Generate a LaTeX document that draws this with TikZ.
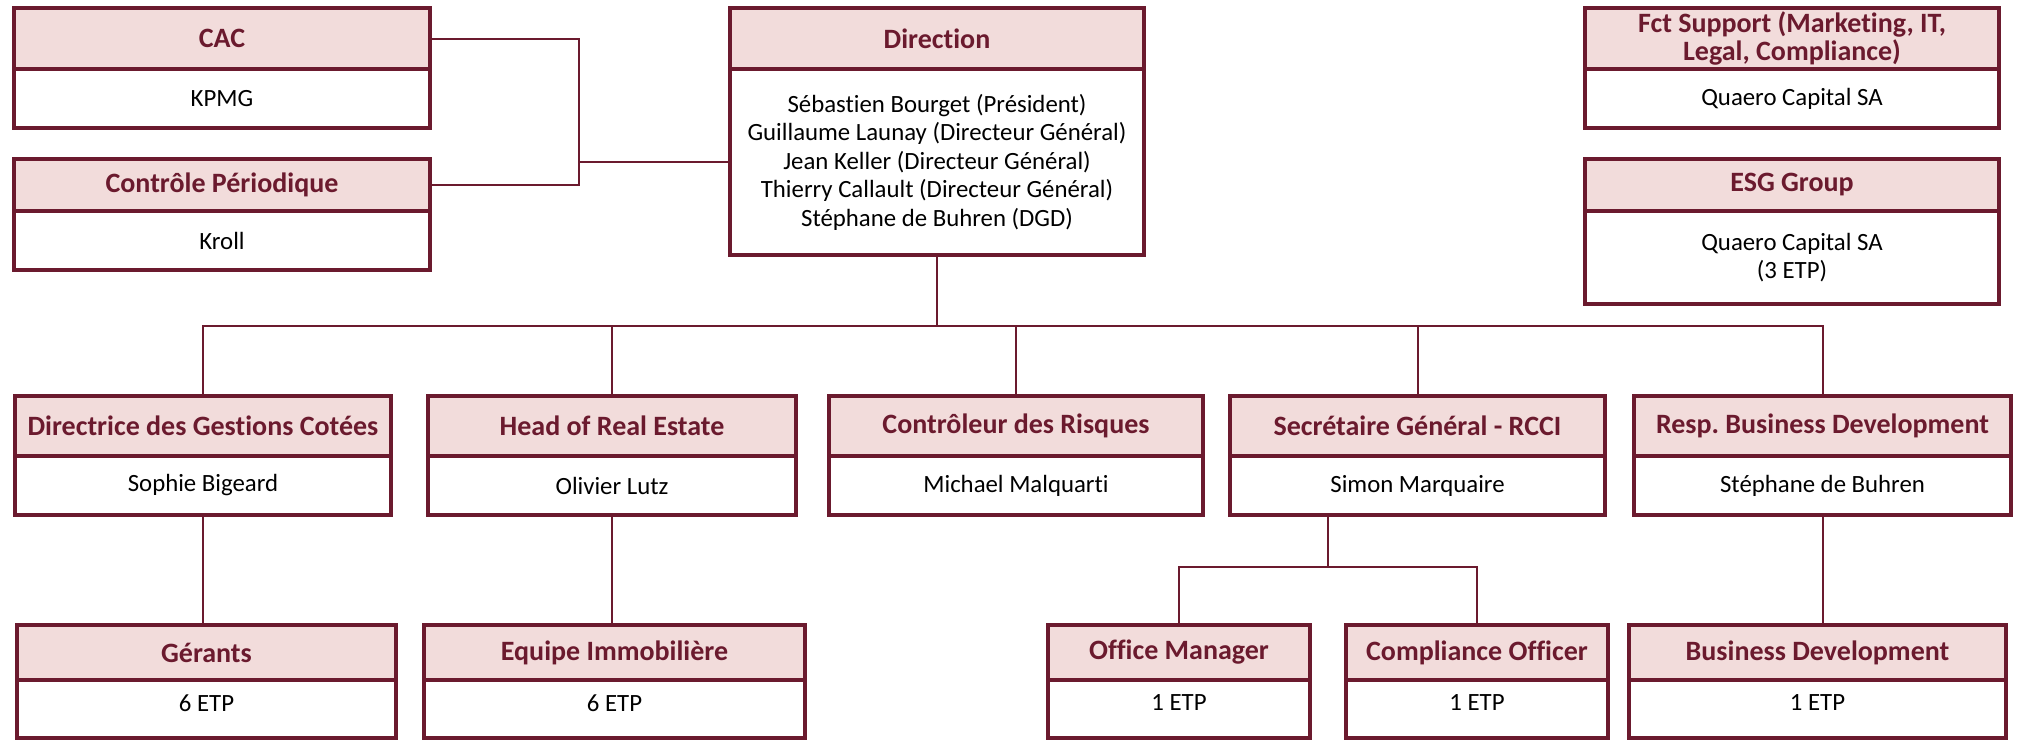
\documentclass[tikz,border=0pt]{standalone}
\usepackage{fontspec}
\setmainfont{Carlito}[Ligatures=NoCommon]
\usepackage{tikz}
\usetikzlibrary{positioning}
\definecolor{wine}{HTML}{6B1A2E}
\definecolor{blush}{HTML}{F2DCDB}
\frenchspacing
\tikzset{
	head/.style={draw=wine, line width=2pt, fill=blush, text=wine, outer sep=0pt, inner sep=1pt,
		align=center, font=\fontsize{14}{11.5}\selectfont\bfseries}, % title part of a box
	body/.style={draw=wine, line width=2pt, fill=white, outer sep=0pt, inner sep=1pt,
		align=center, font=\fontsize{12.4}{14.25}\selectfont}, % names part of a box
	cut/.style={text depth=6pt}, % bottom row runs off the page
	conn/.style={draw=wine, line width=1pt}, % links between boxes
}
\begin{document}
\begin{tikzpicture}[x=0.5pt, y=-0.5pt]
	\useasboundingbox (0,0) rectangle (2017,741);
	% top row
	\node[head, minimum width=208pt, minimum height=30.5pt] at (222,38.5) (cac) {CAC};
	\node[body, minimum width=208pt, minimum height=29.5pt, below=0pt of cac] (cacb) {KPMG};
	\node[head, minimum width=208pt, minimum height=26pt] at (222,185) (ctl) {Contrôle Périodique};
	\node[body, minimum width=208pt, minimum height=29.5pt, below=0pt of ctl] (ctlb) {Kroll};
	\node[head, minimum width=207pt, minimum height=30.5pt] at (937,38.5) (dir) {Direction};
	\node[body, minimum width=207pt, minimum height=93pt, below=0pt of dir] (dirb)
		{Sébastien Bourget (Président)\\Guillaume Launay (Directeur Général)\\Jean Keller (Directeur Général)\\Thierry Callault (Directeur Général)\\Stéphane de Buhren (DGD)};
	\node[head, minimum width=207pt, minimum height=30.5pt] at (1792,38.5) (fct) {Fct Support (Marketing, IT,\\Legal, Compliance)};
	\node[body, minimum width=207pt, minimum height=29.5pt, below=0pt of fct] (fctb) {Quaero Capital SA};
	\node[head, minimum width=207pt, minimum height=26pt] at (1792,185) (esg) {ESG Group};
	\node[body, minimum width=207pt, minimum height=46.5pt, below=0pt of esg] (esgb) {Quaero Capital SA\\(3 ETP)};
	% middle row
	\node[head, minimum width=188pt, minimum height=30pt] at (203,426) (dgc) {Directrice des Gestions Cotées};
	\node[body, minimum width=188pt, minimum height=29.5pt, below=0pt of dgc] (dgcb) {Sophie Bigeard};
	\node[head, minimum width=184pt, minimum height=30pt] at (612,426) (hre) {Head of Real Estate};
	\node[body, minimum width=184pt, minimum height=29.5pt, below=0pt of hre] (hreb) {Olivier Lutz};
	\node[head, minimum width=187pt, minimum height=30pt] at (1016,426) (cdr) {Contrôleur des Risques};
	\node[body, minimum width=187pt, minimum height=29.5pt, below=0pt of cdr] (cdrb) {Michael Malquarti};
	\node[head, minimum width=187.5pt, minimum height=30pt] at (1417.5,426) (sg) {Secrétaire Général - RCCI};
	\node[body, minimum width=187.5pt, minimum height=29.5pt, below=0pt of sg] (sgb) {Simon Marquaire};
	\node[head, minimum width=188.5pt, minimum height=30pt] at (1822.5,426) (rbd) {Resp. Business Development};
	\node[body, minimum width=188.5pt, minimum height=29.5pt, below=0pt of rbd] (rbdb) {Stéphane de Buhren};
	% bottom row
	\node[head, minimum width=189.5pt, minimum height=27.5pt] at (206.5,652.5) (ger) {Gérants};
	\node[body, cut, minimum width=189.5pt, minimum height=29pt, below=0pt of ger] (gerb) {6 ETP};
	\node[head, minimum width=190.5pt, minimum height=27.5pt] at (614.5,652.5) (equ) {Equipe Immobilière};
	\node[body, cut, minimum width=190.5pt, minimum height=29pt, below=0pt of equ] (equb) {6 ETP};
	\node[head, minimum width=131pt, minimum height=27.5pt] at (1179,652.5) (om) {Office Manager};
	\node[body, cut, minimum width=131pt, minimum height=29pt, below=0pt of om] (omb) {1 ETP};
	\node[head, minimum width=131pt, minimum height=27.5pt] at (1477,652.5) (co) {Compliance Officer};
	\node[body, cut, minimum width=131pt, minimum height=29pt, below=0pt of co] (cob) {1 ETP};
	\node[head, minimum width=188.5pt, minimum height=27.5pt] at (1817.5,652.5) (bd) {Business Development};
	\node[body, cut, minimum width=188.5pt, minimum height=29pt, below=0pt of bd] (bdb) {1 ETP};
	% links
	\coordinate (jn) at (579,162);
	\coordinate (bus) at (937,326);
	\coordinate (sub) at (1328,567);
	\draw[conn] (cac.east) -| (jn) |- (ctl.east);
	\draw[conn] (jn) -- (jn -| dirb.west);
	\draw[conn] (dirb.south) -- (bus);
	\draw[conn] (dgc.north) |- (bus) -| (rbd.north);
	\draw[conn] (hre.north) -- (hre.north |- bus);
	\draw[conn] (cdr.north) -- (cdr.north |- bus);
	\draw[conn] (sg.north) -- (sg.north |- bus);
	\draw[conn] (dgcb.south) -- (dgcb.south |- ger.north);
	\draw[conn] (hreb.south) -- (hreb.south |- equ.north);
	\draw[conn] (rbdb.south) -- (rbdb.south |- bd.north);
	\draw[conn] (sub |- sgb.south) -- (sub);
	\draw[conn] (om.north) |- (sub) -| (co.north);
\end{tikzpicture}
\end{document}
